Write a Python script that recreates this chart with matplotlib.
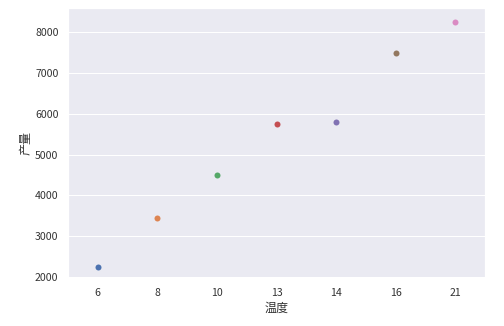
import matplotlib
matplotlib.use("Agg")
import matplotlib.pyplot as plt
import seaborn as sns
import pandas as pd

temperature = [6, 8, 10, 13, 14, 16, 21]
output = [2245, 3446, 4488, 5738, 5800, 7490, 8250]

sns.set_theme(style="darkgrid")
plt.rcParams['font.family'] = ['Noto Sans CJK SC', 'DejaVu Sans']
plt.rcParams['axes.unicode_minus'] = False

df = pd.DataFrame({"温度": temperature, "产量": output})

fig = plt.figure(figsize=(7.0, 326/72), dpi=72)
ax = fig.add_axes([68/504, 1-278/326, (485-68)/504, (278-8)/326])
sns.stripplot(data=df, x="温度", y="产量", hue="温度", palette="deep",
              jitter=False, legend=False, size=6, ax=ax)
ax.set_ylim(1975, 8590)
ax.set_xlabel("温度", fontsize=12, color="#333333")
ax.set_ylabel("产量", fontsize=12, labelpad=2, color="#333333")
ax.tick_params(labelsize=10.5, labelcolor="#333333")
fig.savefig("out.png", dpi=72)
